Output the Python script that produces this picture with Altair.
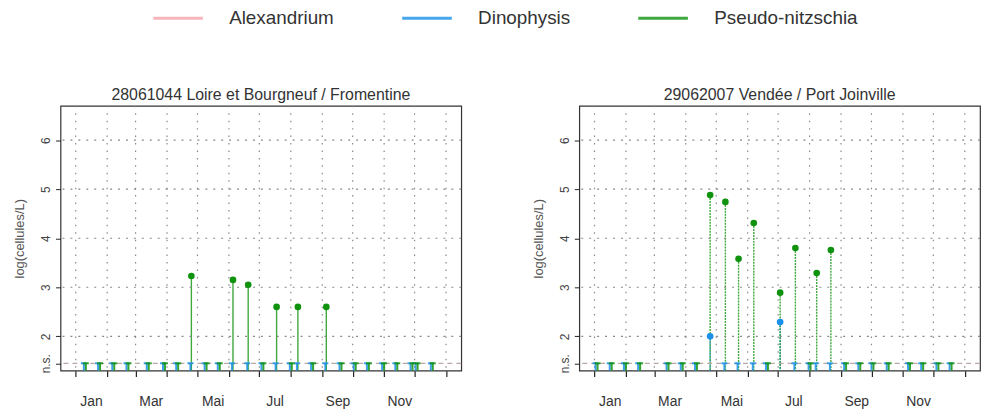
import altair as alt
import pandas as pd

# ---------------- data ----------------
SPECIES = ["Alexandrium", "Dinophysis", "Pseudo-nitzschia"]
COLORS = ["#f4a4ab", "#1a90e8", "#0f930f"]

MONTH_STARTS = [0, 31, 59, 90, 120, 151, 181, 212, 243, 273, 304, 334, 365]
MONTH_MIDS = [15, 74, 135, 196, 258, 319]
MONTH_LABELS = ["Jan", "Mar", "Mai", "Jul", "Sep", "Nov"]
Y_TICKS = [2, 3, 4, 5, 6]
NS_LEVEL = 1.45
Y_MIN, Y_MAX = 1.3, 6.7
X_MIN, X_MAX = -15, 380

# Panel 1 : 28061044 Loire et Bourgneuf / Fromentine
P1_TITLE = "28061044 Loire et Bourgneuf / Fromentine"
P1_DATES = [9, 23, 37, 51, 71, 87, 100, 114, 128, 141, 155, 170, 184, 198,
            212, 219, 233, 247, 261, 275, 288, 303, 316, 331, 336, 351]
P1_PN_DAYS = [114, 155, 170, 198, 219, 247]
P1_PN_VALS = [3.23, 3.15, 3.05, 2.60, 2.60, 2.60]
P1_DI_DAYS = []
P1_DI_VALS = []

# Panel 2 : 29062007 Vendée / Port Joinville
P2_TITLE = "29062007 Vendée / Port Joinville"
P2_DATES = [2, 16, 30, 44, 72, 86, 100, 114, 129, 142, 157, 170, 183, 198,
            212, 219, 233, 247, 261, 274, 289, 310, 323, 338, 351]
P2_PN_DAYS = [114, 129, 142, 157, 183, 198, 219, 233]
P2_PN_VALS = [4.88, 4.74, 3.58, 4.31, 2.89, 3.80, 3.29, 3.76]
P2_DI_DAYS = [114, 183]
P2_DI_VALS = [2.00, 2.29]

FONT = "Liberation Sans"
W, H = 404, 267


def build_frames(dates, pn_days, pn_vals, di_days, di_vals):
    vals = []
    for d, v in zip(di_days, di_vals):
        vals.append({"species": "Dinophysis", "day": d, "value": v, "base": Y_MIN})
    for d, v in zip(pn_days, pn_vals):
        vals.append({"species": "Pseudo-nitzschia", "day": d, "value": v, "base": Y_MIN})
    ns = []
    for d in dates:
        if d not in di_days:
            ns.append({"species": "Dinophysis", "day": d, "ns": NS_LEVEL, "base": Y_MIN})
        if d not in pn_days:
            ns.append({"species": "Pseudo-nitzschia", "day": d, "ns": NS_LEVEL, "base": Y_MIN})
    return pd.DataFrame(vals), pd.DataFrame(ns)


months_df = pd.DataFrame({"day": MONTH_STARTS})
ygrid_df = pd.DataFrame({"y": Y_TICKS})
nsline_df = pd.DataFrame({"y": [NS_LEVEL]})

all_x = sorted(MONTH_STARTS + MONTH_MIDS)
label_expr = ("indexof(%s, datum.value) >= 0 ? %s[indexof(%s, datum.value)] : ''"
              % (MONTH_MIDS, MONTH_LABELS, MONTH_MIDS))
tick_test = "indexof(%s, datum.value) >= 0" % (MONTH_STARTS,)

color_scale = alt.Scale(domain=SPECIES, range=COLORS)


def panel(title, dates, pn_days, pn_vals, di_days, di_vals, legend, dashed):
    vals_df, ns_df = build_frames(dates, pn_days, pn_vals, di_days, di_vals)

    xaxis = alt.Axis(values=all_x, labelExpr=label_expr, title=None, grid=False,
                     domain=False, tickSize=6, tickColor="#222", tickWidth=1.2,
                     tickOpacity={"condition": {"test": tick_test, "value": 1}, "value": 0},
                     labelFontSize=14, labelColor="#333", labelFont=FONT,
                     labelPadding=18, labelOverlap=False)
    yaxis = alt.Axis(values=[NS_LEVEL] + Y_TICKS,
                     labelExpr="datum.value < 1.9 ? 'n.s.' : datum.label",
                     title="log(cellules/L)", grid=False, domain=False,
                     tickSize=5, tickColor="#222", labelAngle=270,
                     labelAlign="center", labelBaseline="bottom",
                     labelFontSize=12, labelColor="#444", labelFont=FONT,
                     labelPadding=3, titleFont=FONT, titleFontSize=13,
                     titleColor="#555", titleFontWeight="normal", titlePadding=13,
                     labelOverlap=False)
    xs = alt.Scale(domain=[X_MIN, X_MAX], nice=False, zero=False)
    ys = alt.Scale(domain=[Y_MIN, Y_MAX], nice=False, zero=False)

    if legend:
        leg = alt.Legend(title=None, orient="none", direction="horizontal",
                         legendX=92, legendY=-115, symbolType="stroke",
                         symbolSize=2500, symbolStrokeWidth=3, labelFontSize=19,
                         labelFont=FONT, labelColor="#333", labelOffset=25,
                         columnPadding=62, symbolOpacity=1)
    else:
        leg = alt.Legend(title=None)

    col = alt.Color("species:N", scale=color_scale, legend=leg)

    stem_kw = {"strokeWidth": 1.4, "opacity": 0.8}
    if dashed:
        stem_kw["strokeDash"] = [2, 1]
    stems = alt.Chart(vals_df).mark_rule(**stem_kw).encode(
        x=alt.X("day:Q", scale=xs, axis=xaxis),
        y=alt.Y("value:Q", scale=ys, axis=yaxis),
        y2="base:Q",
        color=col,
    )
    vgrid = alt.Chart(months_df).mark_rule(color="#888", strokeDash=[1.5, 6], strokeWidth=1.2).encode(
        x=alt.X("day:Q", axis=xaxis))
    hgrid = alt.Chart(ygrid_df).mark_rule(color="#888", strokeDash=[2, 6], strokeWidth=1.2).encode(
        y=alt.Y("y:Q", axis=yaxis))
    nsline = alt.Chart(nsline_df).mark_rule(color="#b8a8a8", strokeDash=[5, 4], strokeWidth=1.2).encode(
        y=alt.Y("y:Q", axis=yaxis))

    ns_layers = []
    for sp, off in [("Dinophysis", -1), ("Pseudo-nitzschia", 1)]:
        base = alt.Chart(ns_df).transform_filter(alt.datum.species == sp)
        ns_layers.append(base.mark_rule(strokeWidth=2, xOffset=off, opacity=0.85).encode(
            x=alt.X("day:Q", axis=xaxis), y=alt.Y("ns:Q", axis=yaxis), y2="base:Q", color=col))
        ns_layers.append(base.mark_tick(orient="horizontal", size=6, thickness=2,
                                        xOffset=off, opacity=0.85).encode(
            x=alt.X("day:Q", axis=xaxis), y=alt.Y("ns:Q", axis=yaxis), color=col))

    pts = alt.Chart(vals_df).mark_circle(size=45, opacity=1).encode(
        x=alt.X("day:Q", axis=xaxis), y=alt.Y("value:Q", axis=yaxis), color=col)

    return alt.layer(stems, vgrid, hgrid, nsline, *ns_layers, pts).properties(
        width=W, height=H,
        title=alt.TitleParams(title, font=FONT, fontSize=16, color="#333",
                              fontWeight="normal", offset=2, anchor="middle"))


left = panel(P1_TITLE, P1_DATES, P1_PN_DAYS, P1_PN_VALS, P1_DI_DAYS, P1_DI_VALS, True, False)
right = panel(P2_TITLE, P2_DATES, P2_PN_DAYS, P2_PN_VALS, P2_DI_DAYS, P2_DI_VALS, False, True)

chart = alt.hconcat(left, right, spacing=69).resolve_scale(
    color="shared").resolve_legend(color="shared").properties(
    padding={"left": 13, "top": -10, "right": 0, "bottom": 0},
    background="white",
).configure_view(stroke="#333", strokeWidth=1.2).configure_axis(
    labelOverlap=False, labelSeparation=0)

chart.save("out.html", embed_options={"renderer": "svg", "actions": False})
